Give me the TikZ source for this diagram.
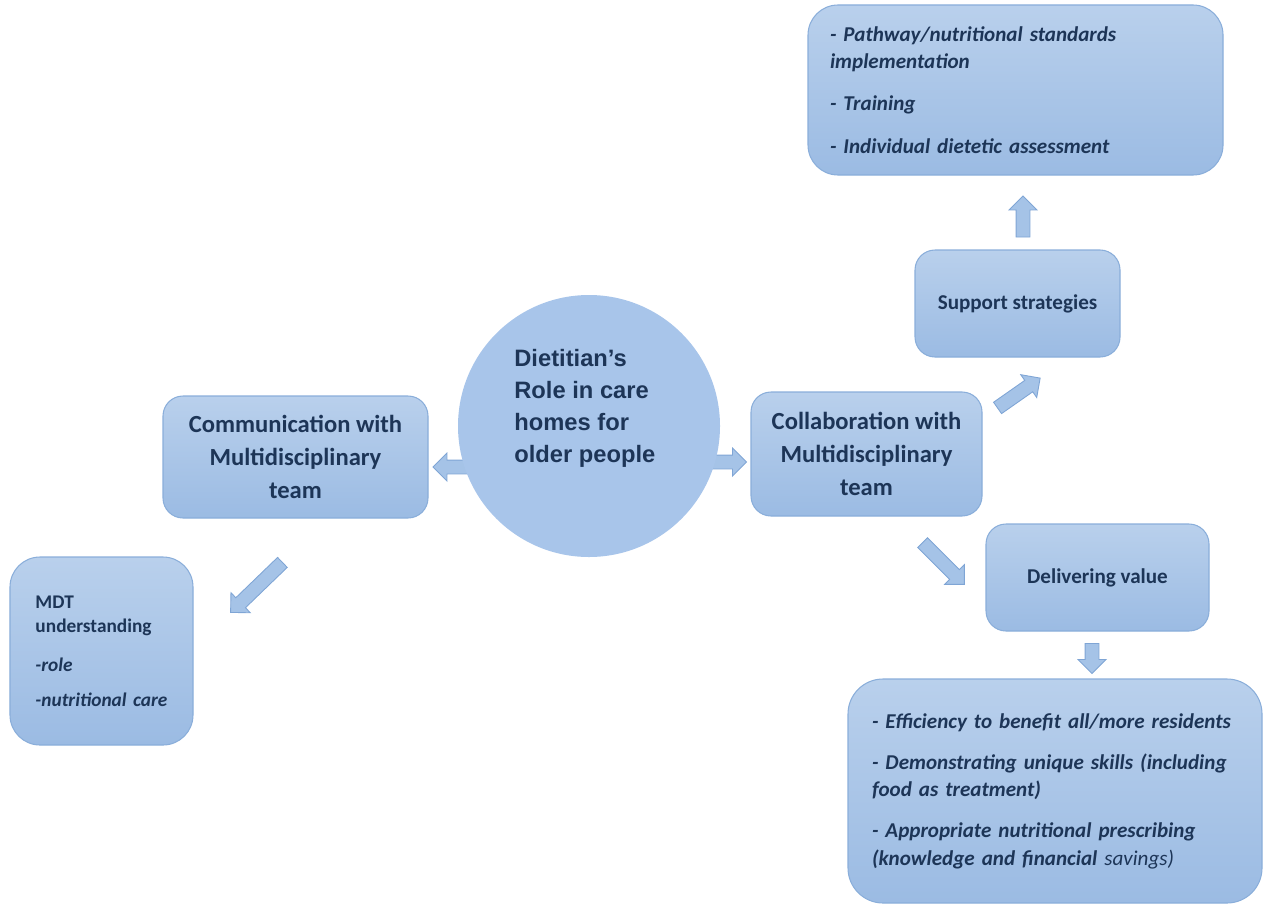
\documentclass[tikz,border=0pt]{standalone}
\usepackage{fontspec}
\setmainfont{Carlito}
\newfontfamily\roleFont{Liberation Sans}
\usetikzlibrary{shapes.arrows}

\definecolor{boxtop}{HTML}{B9D0EC}
\definecolor{boxbottom}{HTML}{9BBBE3}
\definecolor{boxline}{HTML}{8AAEDA}
\definecolor{hubfill}{HTML}{A8C5EA}
\definecolor{inkblue}{HTML}{1D3557}
\definecolor{arrowfill}{HTML}{A5C3E7}
\definecolor{arrowline}{HTML}{7FA5D5}

\tikzset{
  roundbox/.style={draw=boxline, line width=0.6pt, top color=boxtop, bottom color=boxbottom,
    rounded corners=4mm, text=inkblue},
  headbox/.style={roundbox, align=center, font=\bfseries\fontsize{14}{19}\selectfont},
  smallbox/.style={roundbox, align=center, font=\bfseries\fontsize{12}{15}\selectfont},
  listbox/.style={roundbox, rounded corners=6mm, align=left,
    font=\bfseries\itshape\fontsize{12}{15.5}\selectfont},
  hub/.style={circle, fill=hubfill, inner sep=0pt, minimum size=52.4mm},
  blockarrow/.style={single arrow, draw=arrowline, fill=arrowfill, line width=0.5pt,
    inner sep=0pt, text height=2.6mm, text depth=0pt, text width=0pt,
    single arrow head extend=1.4mm, minimum height=#1},
}

\begin{document}
\begin{tikzpicture}[x=0.2mm, y=-0.2mm]
  \useasboundingbox (0,0) rectangle (1265,906);

  \node[listbox, text width=74.2mm, inner xsep=4.4mm, minimum height=34mm] (supportList) at (1015.5,90)
    {- Pathway/nutritional standards\\ implementation\\[8.5pt] - Training\\[8.5pt] - Individual dietetic assessment};
  \node[blockarrow=8.2mm, rotate=90] (upArrow) at (1023,220) {};
  \node[smallbox, minimum width=41mm, minimum height=21.4mm] (support) at (1017.5,303.5) {Support strategies};

  \node[blockarrow=7.4mm, rotate=180] (leftArrow) at (455,467) {};
  \node[blockarrow=7.6mm] (rightArrow) at (724,462) {};
  \node[hub] (role) at (589,426) {};
  \node[text=inkblue, align=left, inner sep=0pt, anchor=west,
    font=\roleFont\bfseries\fontsize{13.5}{18.2}\selectfont] (roleText) at (514,408)
    {Dietitian’s\\ Role in care\\ homes for\\ older people};

  \node[headbox, minimum width=53mm, minimum height=24.4mm] (communication) at (295.5,457)
    {Communication with\\ Multidisciplinary\\ team};
  \node[headbox, minimum width=46.2mm, minimum height=24.8mm] (collaboration) at (866.5,454)
    {Collaboration with\\ Multidisciplinary\\ team};

  \node[blockarrow=10.4mm, rotate=35] (supportArrow) at (1016,395) {};
  \node[blockarrow=11.8mm, rotate=-45] (valueArrow) at (941,561) {};
  \node[smallbox, minimum width=44.6mm, minimum height=21.4mm] (value) at (1097.5,577.5) {Delivering value};
  \node[blockarrow=6mm, rotate=-90] (downArrow) at (1092,655) {};

  \node[listbox, text width=73.2mm, inner xsep=4.8mm, minimum height=44.8mm, rounded corners=7mm] (valueList) at (1055,791)
    {- Efficiency to benefit all/more residents\\[8pt]
     - Demonstrating unique skills (including\\ food as treatment)\\[8pt]
     - Appropriate nutritional prescribing\\ (knowledge and financial {\mdseries savings)}};

  \node[blockarrow=14.4mm, rotate=-136] (mdtArrow) at (259,585) {};
  \node[listbox, text width=26.4mm, inner xsep=5.1mm, minimum height=37.6mm,
    font=\bfseries\itshape\fontsize{11}{14}\selectfont] (mdt) at (101.5,651)
    {{\upshape MDT}\\ {\upshape understanding}\\[8pt] -role\\[6pt] -nutritional care};
\end{tikzpicture}
\end{document}
